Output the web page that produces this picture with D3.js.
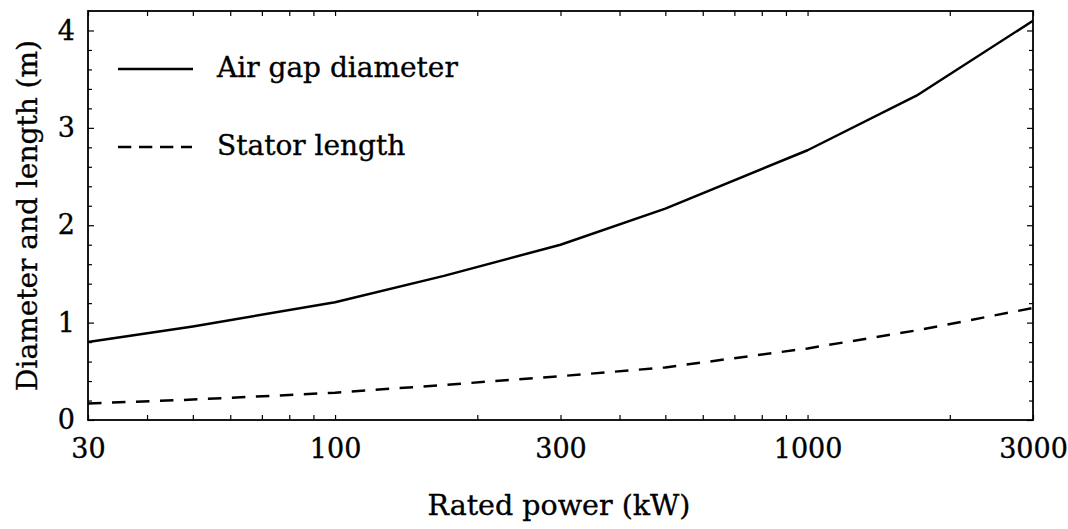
<!DOCTYPE html>
<html>
<head>
<meta charset="utf-8">
<script src="https://cdn.jsdelivr.net/npm/d3@7"></script>
<style>
  html, body { margin: 0; padding: 0; background: #fff; }
  svg { display: block; }
  text { font-family: "DejaVu Serif", "Liberation Serif", serif; fill: #000; stroke: #000; stroke-width: 0.35px; }
</style>
</head>
<body>
<svg id="chart" width="1068" height="529"></svg>
<script>
// ---- data ----
const ratedPower = [30, 50, 100, 170, 300, 500, 1000, 1700, 3000];
const airGapDiameter = [0.80, 0.96, 1.21, 1.48, 1.80, 2.17, 2.77, 3.33, 4.10];
const statorLength = [0.17, 0.21, 0.28, 0.36, 0.45, 0.54, 0.735, 0.92, 1.15];
const xMajorTicks = [30, 100, 300, 1000, 3000];
const xMinorTicks = [40, 50, 60, 70, 80, 90, 200, 400, 500, 600, 700, 800, 900, 2000];
const yMajorTicks = [0, 1, 2, 3, 4];
const yMinorTicks = [0.2, 0.4, 0.6, 0.8, 1.2, 1.4, 1.6, 1.8, 2.2, 2.4, 2.6, 2.8, 3.2, 3.4, 3.6, 3.8];
const seriesNames = ["Air gap diameter", "Stator length"];
const xTitle = "Rated power (kW)";
const yTitle = "Diameter and length (m)";

// ---- layout ----
const L = 88, R = 1033, T = 11, B = 420;
const FS = 27, FT = 28.5;
const svg = d3.select("#chart");

const x = d3.scaleLog().domain([30, 3000]).range([L, R]);
const y = d3.scaleLinear().domain([0, 4.2]).range([B, T]);

function styleAxis(g) {
  g.select(".domain").remove();
  g.selectAll(".tick line").attr("stroke", "#000").attr("stroke-width", 1.2);
  g.selectAll(".tick text").style("font-size", FS + "px").style("font-family", '"DejaVu Serif", serif')
    .attr("fill", "#000").attr("stroke", "#000").attr("stroke-width", 0.35);
}

// bottom axis: major with labels
svg.append("g").attr("transform", `translate(0,${B})`)
  .call(d3.axisBottom(x).tickValues(xMajorTicks).tickFormat(d3.format("d"))
    .tickSizeInner(-5).tickSizeOuter(0).tickPadding(19))
  .call(styleAxis);
// bottom minor
svg.append("g").attr("transform", `translate(0,${B})`)
  .call(d3.axisBottom(x).tickValues(xMinorTicks).tickFormat("")
    .tickSizeInner(-5).tickSizeOuter(0))
  .call(styleAxis);
// top axis
svg.append("g").attr("transform", `translate(0,${T})`)
  .call(d3.axisTop(x).tickValues(xMajorTicks.concat(xMinorTicks)).tickFormat("")
    .tickSizeInner(-5).tickSizeOuter(0))
  .call(styleAxis);

// left axis
svg.append("g").attr("transform", `translate(${L},0)`)
  .call(d3.axisLeft(y).tickValues(yMajorTicks).tickFormat(d3.format("d"))
    .tickSizeInner(-6).tickSizeOuter(0).tickPadding(13))
  .call(styleAxis);
svg.append("g").attr("transform", `translate(${L},0)`)
  .call(d3.axisLeft(y).tickValues(yMinorTicks).tickFormat("")
    .tickSizeInner(-4).tickSizeOuter(0))
  .call(styleAxis);
// right axis
svg.append("g").attr("transform", `translate(${R},0)`)
  .call(d3.axisRight(y).tickValues(yMajorTicks).tickFormat("")
    .tickSizeInner(-6).tickSizeOuter(0))
  .call(styleAxis);
svg.append("g").attr("transform", `translate(${R},0)`)
  .call(d3.axisRight(y).tickValues(yMinorTicks).tickFormat("")
    .tickSizeInner(-4).tickSizeOuter(0))
  .call(styleAxis);

// curves
const line = d3.line().x(d => x(d[0])).y(d => y(d[1]));
svg.append("path")
  .datum(ratedPower.map((p, i) => [p, airGapDiameter[i]]))
  .attr("d", line).attr("fill", "none").attr("stroke", "#000")
  .attr("stroke-width", 2.5).attr("stroke-linejoin", "round");
svg.append("path")
  .datum(ratedPower.map((p, i) => [p, statorLength[i]]))
  .attr("d", line).attr("fill", "none").attr("stroke", "#000")
  .attr("stroke-width", 2.5).attr("stroke-dasharray", "13.5,10.5");

// frame
svg.append("rect").attr("x", L).attr("y", T).attr("width", R - L).attr("height", B - T)
  .attr("fill", "none").attr("stroke", "#000").attr("stroke-width", 1.8);

// legend
const legend = svg.append("g");
legend.append("line").attr("x1", 118).attr("x2", 193).attr("y1", 69).attr("y2", 69)
  .attr("stroke", "#000").attr("stroke-width", 2.5);
legend.append("line").attr("x1", 118).attr("x2", 192).attr("y1", 147).attr("y2", 147)
  .attr("stroke", "#000").attr("stroke-width", 2.5).attr("stroke-dasharray", "13.3,7.7");
legend.append("text").attr("x", 217).attr("y", 77).style("font-size", "28px").text(seriesNames[0]);
legend.append("text").attr("x", 217).attr("y", 155).style("font-size", "28px").text(seriesNames[1]);

// axis titles
svg.append("text").attr("x", 559).attr("y", 515).attr("text-anchor", "middle")
  .style("font-size", FT + "px").text(xTitle);
svg.append("text").attr("transform", `translate(37,${(T + B) / 2}) rotate(-90)`)
  .attr("text-anchor", "middle").style("font-size", "28px").text(yTitle);
</script>
</body>
</html>
